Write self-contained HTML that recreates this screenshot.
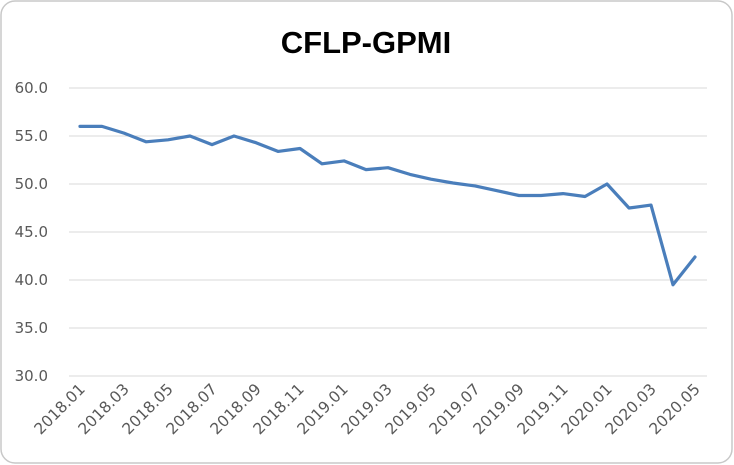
<!DOCTYPE html>
<html><head><meta charset="utf-8"><style>
html,body{margin:0;padding:0;background:#fff;}
svg{display:block;}
</style></head><body>
<svg width="734" height="465" xmlns="http://www.w3.org/2000/svg" font-family="DejaVu Sans, sans-serif">
<rect x="1" y="1" width="731" height="462" rx="14" ry="14" fill="#fff" stroke="#c8c8c8" stroke-width="1.5"/>
<text x="366" y="53" text-anchor="middle" font-size="31" font-weight="bold" fill="#000" font-family="Liberation Sans, sans-serif">CFLP-GPMI</text>
<g stroke="#d9d9d9" stroke-width="1">
<line x1="69" x2="707" y1="88" y2="88"/>
<line x1="69" x2="707" y1="136" y2="136"/>
<line x1="69" x2="707" y1="184" y2="184"/>
<line x1="69" x2="707" y1="232" y2="232"/>
<line x1="69" x2="707" y1="280" y2="280"/>
<line x1="69" x2="707" y1="328" y2="328"/>
<line x1="69" x2="707" y1="376" y2="376"/>
</g>
<g font-size="15" fill="#595959" text-anchor="end">
<text x="48" y="93">60.0</text>
<text x="48" y="141">55.0</text>
<text x="48" y="189">50.0</text>
<text x="48" y="237">45.0</text>
<text x="48" y="285">40.0</text>
<text x="48" y="333">35.0</text>
<text x="48" y="381">30.0</text>
</g>
<g font-size="15.5" fill="#595959" text-anchor="end">
<text transform="translate(86,390) rotate(-45)">2018.01</text>
<text transform="translate(130,390) rotate(-45)">2018.03</text>
<text transform="translate(174,390) rotate(-45)">2018.05</text>
<text transform="translate(218,390) rotate(-45)">2018.07</text>
<text transform="translate(262,390) rotate(-45)">2018.09</text>
<text transform="translate(305,390) rotate(-45)">2018.11</text>
<text transform="translate(349,390) rotate(-45)">2019.01</text>
<text transform="translate(393,390) rotate(-45)">2019.03</text>
<text transform="translate(437,390) rotate(-45)">2019.05</text>
<text transform="translate(481,390) rotate(-45)">2019.07</text>
<text transform="translate(525,390) rotate(-45)">2019.09</text>
<text transform="translate(569,390) rotate(-45)">2019.11</text>
<text transform="translate(613,390) rotate(-45)">2020.01</text>
<text transform="translate(657,390) rotate(-45)">2020.03</text>
<text transform="translate(701,390) rotate(-45)">2020.05</text>
</g>
<polyline fill="none" stroke="#4a7ebb" stroke-width="3.2" stroke-linejoin="round" stroke-linecap="round" points="
80,126.4 102,126.4 124,133.1 146,141.8 168,139.8 190,136 212,144.6 234,136 256,142.7 278,151.4 300,148.5 322,163.8 344,160.9 366,169.6 388,167.7 410,174.4 431,179.2 453,183 475,185.9 497,190.7 519,195.5 541,195.5 563,193.6 585,196.5 607,184 629,208 651,205.1 673,284.8 695,257"/>
</svg>
</body></html>
